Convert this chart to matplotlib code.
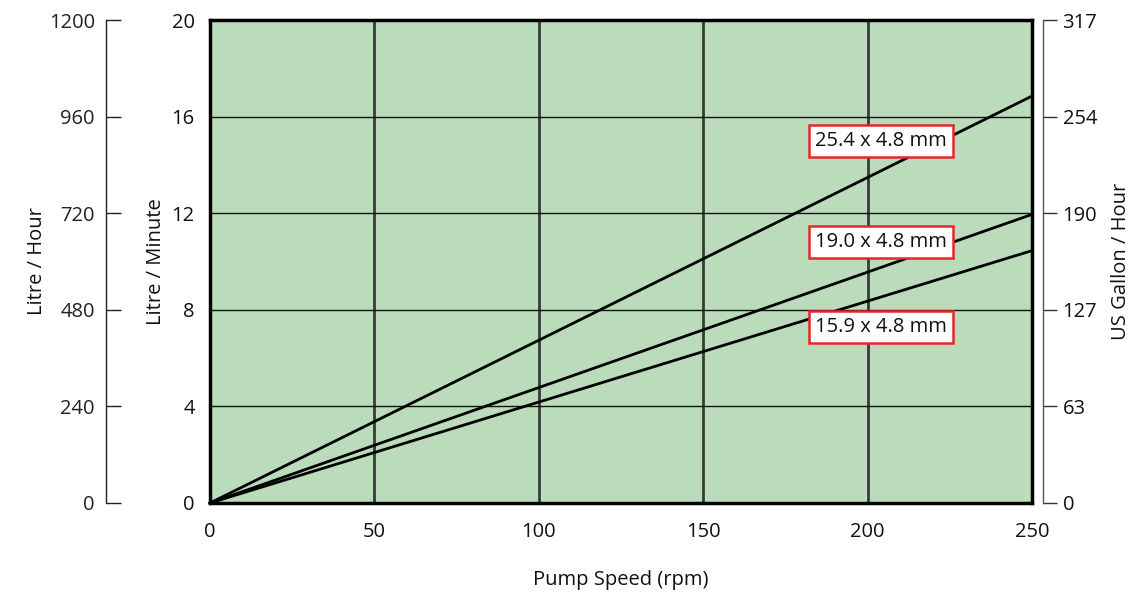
import matplotlib
matplotlib.use("Agg")
import matplotlib.pyplot as plt

plt.rcParams['font.family'] = ['Open Sans', 'DejaVu Sans']

rpm = [0, 250]
series_names = ["25.4 x 4.8 mm", "19.0 x 4.8 mm", "15.9 x 4.8 mm"]
flow_25_4 = [0, 16.85]
flow_19_0 = [0, 11.95]
flow_15_9 = [0, 10.45]
label_pos = [(204, 15.0), (204, 10.8), (204, 7.3)]

lpm_ticks = [0, 4, 8, 12, 16, 20]
lph_labels = ["0", "240", "480", "720", "960", "1200"]
gph_labels = ["0", "63", "127", "190", "254", "317"]
x_ticks = [0, 50, 100, 150, 200, 250]

FS = 14.5
W, H = 1132, 593
fig = plt.figure(figsize=(W/100, H/100), dpi=100)
L, R, T, B = 210, 1032, 20, 503
ax = fig.add_axes([L/W, 1 - B/H, (R-L)/W, (B-T)/H])
ax.set_facecolor('#badcbb')
ax.set_xlim(0, 250)
ax.set_ylim(0, 20)

for xv in x_ticks[1:-1]:
    ax.axvline(xv, color='#3a3a3a', lw=2.0, zorder=1)
for yv in lpm_ticks[1:-1]:
    ax.axhline(yv, color='#111111', lw=1.0, zorder=1)

for ys in (flow_25_4, flow_19_0, flow_15_9):
    ax.plot(rpm, ys, color='black', lw=2.0, zorder=3, clip_on=False)

for name, (lx, ly) in zip(series_names, label_pos):
    ax.text(lx, ly, name, ha='center', va='center', fontsize=FS, color='#111111', zorder=5,
            bbox=dict(boxstyle='square,pad=0.3', facecolor='white', edgecolor='#e8262a', lw=1.8))

for s in ax.spines.values():
    s.set_linewidth(2.5)
    s.set_color('black')
    s.set_zorder(6)

ax.set_xticks(x_ticks)
ax.set_yticks(lpm_ticks)
ax.tick_params(axis='both', length=0, labelsize=FS, colors='#111111')
ax.tick_params(axis='x', pad=14)
ax.tick_params(axis='y', pad=11)
ax.set_xlabel("Pump Speed (rpm)", fontsize=FS, labelpad=20, color='#111111')
ax.set_ylabel("Litre / Minute", fontsize=FS, labelpad=4, color='#111111')

# Outer left axis: Litre / Hour
axl = ax.twinx()
axl.set_ylim(0, 20)
axl.spines['left'].set_visible(True)
axl.spines['left'].set_position(('axes', -(L-106)/(R-L)))
axl.spines['left'].set_color('#222222')
axl.spines['left'].set_linewidth(1.0)
for k in ('right', 'top', 'bottom'):
    axl.spines[k].set_visible(False)
axl.yaxis.set_ticks_position('left')
axl.yaxis.set_label_position('left')
axl.set_yticks(lpm_ticks)
axl.set_yticklabels(lph_labels)
axl.tick_params(axis='y', direction='in', length=11, width=1.0, labelsize=FS, colors='#222222', pad=8)
axl.set_ylabel("Litre / Hour", fontsize=FS, labelpad=1, color='#111111')
axl.set_facecolor('none')

# Right axis: US Gallon / Hour
axr = ax.twinx()
axr.set_ylim(0, 20)
axr.spines['right'].set_position(('outward', 8))
axr.spines['right'].set_color('#555555')
axr.spines['right'].set_linewidth(1.0)
for k in ('left', 'top', 'bottom'):
    axr.spines[k].set_visible(False)
axr.set_yticks(lpm_ticks)
axr.set_yticklabels(gph_labels)
axr.tick_params(axis='y', direction='out', length=10, width=1.0, labelsize=FS, colors='#333333', labelcolor='#111111', pad=4)
axr.set_ylabel("US Gallon / Hour", fontsize=FS, labelpad=10, color='#111111')
axr.set_facecolor('none')

fig.savefig("out.png", dpi=100)
